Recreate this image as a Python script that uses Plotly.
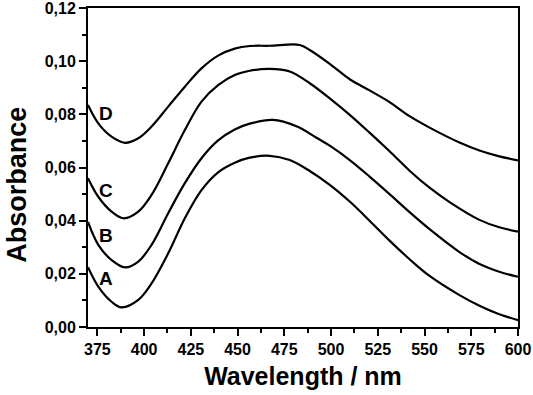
import plotly.graph_objects as go

wl_A = [370, 375.5, 382.6, 388, 396.9, 404, 412.9, 421.8, 430.7, 439.6, 448.5, 456.5, 467.2, 477.9, 488.6, 499.3, 510, 520.6, 531.3, 542, 552.7, 568.7, 579.4, 590, 600]
abs_A = [0.0225, 0.0152, 0.0095, 0.0074, 0.0102, 0.0164, 0.0277, 0.0409, 0.0515, 0.0582, 0.0618, 0.0637, 0.0644, 0.0628, 0.0587, 0.0535, 0.0472, 0.0400, 0.0325, 0.0255, 0.0192, 0.0120, 0.0080, 0.0048, 0.0026]

wl_B = [370, 375.5, 382.6, 389.8, 396.9, 404, 412.9, 421.8, 430.7, 439.6, 448.5, 456.5, 468.8, 481.5, 492.2, 499.3, 510, 520.6, 531.3, 542, 552.7, 568.7, 579.4, 590, 600]
abs_B = [0.0395, 0.0309, 0.0252, 0.0224, 0.0246, 0.0309, 0.0428, 0.0541, 0.0635, 0.0702, 0.0743, 0.0765, 0.0779, 0.0755, 0.0712, 0.0682, 0.0628, 0.0566, 0.0500, 0.0432, 0.0368, 0.0282, 0.0237, 0.0208, 0.0189]

wl_C = [370, 375.5, 382.6, 388.9, 396.9, 404, 412.9, 421.8, 430.7, 439.6, 448.5, 456.5, 467.2, 477.9, 488.6, 499.3, 510, 520.6, 531.3, 542, 552.7, 563.4, 579.4, 590, 600]
abs_C = [0.0560, 0.0490, 0.0434, 0.0409, 0.0434, 0.0497, 0.0616, 0.0741, 0.0848, 0.0910, 0.0948, 0.0964, 0.0971, 0.0961, 0.0917, 0.0860, 0.0798, 0.0731, 0.0661, 0.0588, 0.0524, 0.0470, 0.0403, 0.0375, 0.0359]

wl_D = [370, 375.5, 382.6, 389.8, 396.9, 404, 412.9, 421.8, 430.7, 439.6, 448.5, 456.5, 467.2, 483.3, 488.6, 499.3, 510, 520.6, 531.3, 542, 552.7, 568.7, 579.4, 590, 600]
abs_D = [0.0835, 0.0766, 0.0716, 0.0693, 0.0710, 0.0754, 0.0829, 0.0904, 0.0973, 0.1021, 0.1047, 0.1057, 0.1058, 0.1061, 0.1042, 0.0990, 0.0932, 0.0890, 0.0846, 0.0793, 0.0750, 0.0694, 0.0664, 0.0642, 0.0627]

curve_names = ["A", "B", "C", "D"]
label_x = [374.8, 374.8, 374.8, 374.8]
label_y = [0.0184, 0.0346, 0.0515, 0.0805]

x_tickvals = [375, 400, 425, 450, 475, 500, 525, 550, 575, 600]
x_ticktext = ["375", "400", "425", "450", "475", "500", "525", "550", "575", "600"]
y_tickvals = [0.00, 0.02, 0.04, 0.06, 0.08, 0.10, 0.12]
y_ticktext = ["0,00", "0,02", "0,04", "0,06", "0,08", "0,10", "0,12"]
x_title = "Wavelength / nm"
y_title = "Absorbance"

FONT = "Liberation Sans, Arial, sans-serif"

fig = go.Figure()
for wl, ab, name in zip([wl_A, wl_B, wl_C, wl_D], [abs_A, abs_B, abs_C, abs_D], curve_names):
    fig.add_trace(go.Scatter(x=wl, y=ab, mode="lines", name=name,
                             line=dict(color="black", width=2.2, shape="spline", smoothing=1.0),
                             showlegend=False))

for n, lx, ly in zip(curve_names, label_x, label_y):
    fig.add_annotation(x=lx, y=ly, text=n, showarrow=False, xanchor="left", yanchor="middle",
                       font=dict(family=FONT, size=19, color="black", weight="bold"))

axis_font = dict(family=FONT, size=16, color="black", weight="bold")
title_font = dict(family=FONT, size=25, color="black", weight="bold")

# y-axis title as rotated text (sits below the axis centre in the reference)
fig.add_annotation(xref="paper", yref="paper", x=-0.166, y=0.445, text=y_title, textangle=-90,
                   showarrow=False, xanchor="center", yanchor="middle",
                   font=dict(family=FONT, size=27, color="black", weight="bold"))

fig.update_xaxes(range=[370, 600], tickvals=x_tickvals, ticktext=x_ticktext,
                 showgrid=False, zeroline=False, showline=True, linecolor="black", linewidth=2,
                 mirror=True, ticks="outside", ticklen=7, tickwidth=1.5, tickcolor="black",
                 minor=dict(ticks="outside", ticklen=4, tickwidth=1.5, tickcolor="black",
                            tick0=362.5, dtick=25, showgrid=False),
                 tickfont=axis_font, ticklabeloverflow="allow",
                 title=dict(text=x_title, font=title_font, standoff=10))
fig.update_yaxes(range=[0, 0.12], tickvals=y_tickvals, ticktext=y_ticktext,
                 showgrid=False, zeroline=False, showline=True, linecolor="black", linewidth=2,
                 mirror=True, ticks="outside", ticklen=7, tickwidth=1.5, tickcolor="black",
                 minor=dict(ticks="outside", ticklen=4, tickwidth=1.5, tickcolor="black",
                            tick0=0.01, dtick=0.02, showgrid=False),
                 tickfont=axis_font, ticklabeloverflow="allow")

fig.update_layout(width=533, height=395, margin=dict(l=88, r=15, t=8, b=68, autoexpand=False),
                  plot_bgcolor="white", paper_bgcolor="white")

fig.write_html("out.html", config={"displayModeBar": False},
               post_script="document.body.style.margin='0';")
